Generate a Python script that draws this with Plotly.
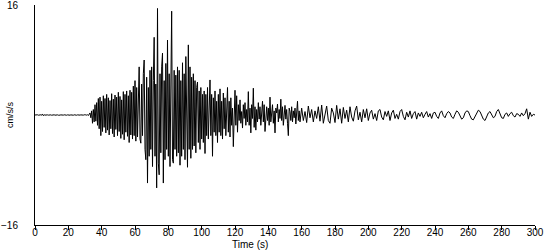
import numpy as np
import plotly.graph_objects as go

# Quiet pre-event record, 0 - 32.5 s, sampled every 0.5 s (cm/s/s)
pre_event = [0.0, 0.02, -0.02, 0.03, -0.03, 0.02, -0.02, 0.03, -0.03, 0.15,
             -0.1, 0.03, -0.02, 0.02, -0.03, 0.02, -0.02, 0.03, -0.02, 0.02,
             -0.03, 0.02, -0.02, 0.03, -0.03, 0.02, -0.02, 0.02, -0.03, 0.03,
             -0.02, 0.02, -0.03, 0.02, -0.02, 0.03, -0.02, 0.02, -0.03, 0.02,
             -0.02, 0.03, -0.03, 0.02, -0.02, 0.02, -0.03, 0.03, -0.02, 0.02,
             -0.03, 0.02, -0.02, 0.03, -0.02, 0.02, -0.03, 0.02, -0.02, 0.03,
             -0.03, 0.02, -0.02, 0.05, -0.08, 0.1]

# Strong motion and early coda, 33.0 - 159.5 s, sampled every 0.5 s
strong_motion = [
    0.3, -0.4, 0.6, -1.2, 0.8, -1.0, 1.5, -0.9, 1.8, -1.5,
    2.4, -2.0, 2.6, -3.0, 2.0, -2.4, 2.8, -1.8, 2.4, -2.6,
    3.0, -2.2, 2.5, -2.9, 2.1, -2.0, 3.1, -2.7, 2.3, -3.2,
    2.9, -2.1, 2.6, -3.0, 3.3, -2.4, 2.7, -3.4, 2.2, -2.8,
    3.4, -3.6, 3.0, -2.5, 3.5, -3.1, 2.8, -4.0, 3.6, -2.9,
    3.3, -3.5, 4.2, -3.0, 5.0, -3.8,
    4.0, -3.2, 5.2, 7.0, -3.5, -4.1, 4.5, -3.0, 6.0, 8.0,
    -5.0, -6.5, 5.5, -9.9, 4.0, -6.0, 6.5, -5.0, 7.0, -7.5,
    5.0, 11.3, -6.0, 4.5, -10.6, 15.5, -7.0, -8.7, 6.0, -5.5,
    7.0, 9.0, -9.9, 5.0, -6.5, 7.5, -5.0, 10.9, -6.0, 6.0,
    -7.5, 8.0, 15.1, -6.5, -7.0, 6.5, -5.0, 5.8, -6.0, 7.0,
    -5.5, 6.5, -7.3, 5.0, -6.0, 7.6, -5.0, 6.0, -6.5, 8.5,
    -5.5, -7.6, 10.2, -5.0, 7.0, -6.3, 5.5, -5.0, 6.0, -4.5,
    5.0, -5.5, 4.0, 4.8, -4.0, 3.5, -5.0, 4.0, -3.5, 3.0,
    -4.0, 3.5, -5.6, 3.0, -3.0, 4.0, -3.5, 2.5, 5.1, -3.0,
    3.0, -6.0, 2.5, -2.5, 3.5, -3.0, 2.0, -4.0, 3.0,
    -2.5, 3.8, -3.0, 2.0, -3.5, 3.2, -2.0, 2.5, -3.0, 1.8,
    4.0, -2.5, 2.0, -3.2, 2.5, -1.5, 1.0, -4.6, 2.0, 3.6,
    -1.5, 2.8, -2.5, 1.5, -0.8, 2.2, -1.2, 0.5, -1.9, 1.5,
    -0.5, 1.8, -1.5, 0.8, -1.0, 3.4, -1.5, 1.0, -2.6, 1.5,
    -0.5, 3.9, -1.8, 1.2, -2.2, 0.8, -1.0, 1.8, -0.6, 1.2,
    -1.5, 0.5, 2.0, -1.0, 1.5, -2.4, 0.8, 1.2, -0.8, 1.0,
    -1.5, 2.6, -1.0, 0.5, 1.5, -1.2, 0.6, -2.6, 1.0, 0.3,
    1.6, -1.0, 0.8, -0.5, 2.3, -0.8, 1.2, -1.5, 0.4, 1.4,
    -0.6, 0.8, -1.2, -3.0, 1.0, 0.5, -0.8, 1.2, -1.0, 0.6,
    -0.4, 1.0, -1.3, 0.5, 2.0, -0.8, 0.6, -1.0, 0.5]

# Late coda, 160 - 300 s, sampled every 1 s
late_coda = [
    1.0, -0.8, 0.5, -1.1, 1.3, -0.4, 0.8, -1.0, 0.6, -0.5,
    1.2, -0.9, 1.45, -1.2, 0.4, 1.3, -0.8, -1.2, 1.0, 0.3,
    -1.1, 1.4, -0.6, 0.9, -1.2, 1.1, -0.5, 0.7, -1.0, 1.2,
    -0.3, -0.9, 0.6, 1.3, -0.7, 0.4, -1.0, 0.8, -0.4, 0.9,
    -0.8, 0.3, 0.7, -0.6, 0.2, -0.8, 0.6, 0.8, -0.3, -0.7,
    0.5, -0.2, 0.6, -0.8, 0.3, 0.7, -0.5, 0.1, -0.6, 0.5,
    0.8, -0.2, -0.7, 0.4, -0.3, 0.6, -0.5, 0.2, 0.5, -0.6,
    0.3, -0.2, 0.4, -0.4, 0.1, 0.5, -0.3, 0.2, -0.5, 0.3,
    0.4, -0.2, -0.5, 0.3, 0.6, -0.1, -0.4, 0.2, 0.5, 0.3,
    -0.3, -0.5, 0.1, 0.6, 0.4, -0.2, -0.6, -0.4, 0.3, 0.6,
    0.5, -0.1, -0.6, -0.7, -0.2, 0.4, 0.7, 0.5, -0.2, -0.6,
    -0.8, -0.3, 0.3, 0.5, 0.1, -0.4, -0.2, 0.5, 0.8, 0.3,
    -0.4, -0.5, 0.1, 0.3, -0.2, 0.2, 0.4, -0.1, -0.3, 0.2,
    0.1, -0.2, 0.3, -0.1, 0.2, 0.9, -0.6, 0.4, -0.2, 0.1,
    0.0]

t_pre = 0.0 + 0.5 * np.arange(len(pre_event))
t_strong = 33.0 + 0.5 * np.arange(len(strong_motion))
t_coda = 160.0 + 1.0 * np.arange(len(late_coda))

time = np.concatenate([t_pre, t_strong, t_coda])
accel = np.concatenate([pre_event, strong_motion, late_coda])

x_ticks = list(range(0, 301, 20))
y_ticks = [-16, 16]

font = "Liberation Sans, Arial, sans-serif"

fig = go.Figure()
fig.add_trace(go.Scatter(x=time, y=accel, mode="lines",
                         line=dict(color="black", width=1),
                         hoverinfo="skip", showlegend=False))

fig.update_layout(
    width=550, height=250,
    margin=dict(l=35, r=15, t=5, b=25, autoexpand=False),
    paper_bgcolor="white", plot_bgcolor="white",
    font=dict(family=font, size=10, color="black"),
    xaxis=dict(range=[0, 300], tickvals=x_ticks, ticks="outside", ticklen=4,
               tickcolor="black", showline=True, linecolor="black", linewidth=1,
               showgrid=False, zeroline=False, automargin=False,
               ticklabelstandoff=-6, ticklabeloverflow="allow",
               tickfont=dict(size=10)),
    yaxis=dict(range=[-16, 16], tickvals=y_ticks, ticks="", showline=True,
               linecolor="black", linewidth=1, showgrid=False, zeroline=False,
               automargin=False, ticklabelstandoff=14,
               ticklabeloverflow="allow", tickfont=dict(size=10)),
    annotations=[
        dict(text="Time (s)", xref="paper", yref="paper", x=0.43, y=-0.09,
             xanchor="center", yanchor="middle", showarrow=False,
             font=dict(size=10)),
        dict(text="cm/s/s", xref="paper", yref="paper", x=-0.05, y=0.5,
             xanchor="center", yanchor="middle", textangle=-90, showarrow=False,
             font=dict(size=9)),
    ],
)

fig.write_html("out.html")
